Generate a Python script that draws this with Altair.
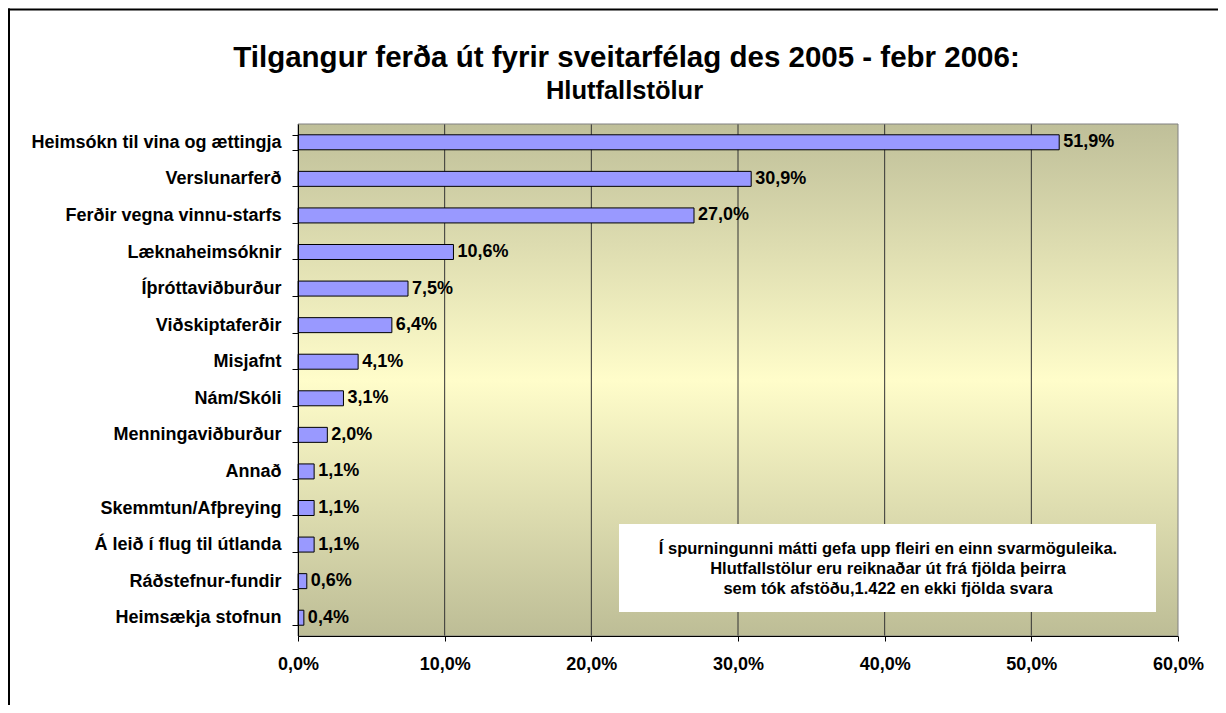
import altair as alt
import pandas as pd

# ---- data ----
categories = [
    "Heimsókn til vina og ættingja",
    "Verslunarferð",
    "Ferðir vegna vinnu-starfs",
    "Læknaheimsóknir",
    "Íþróttaviðburður",
    "Viðskiptaferðir",
    "Misjafnt",
    "Nám/Skóli",
    "Menningaviðburður",
    "Annað",
    "Skemmtun/Afþreying",
    "Á leið í flug til útlanda",
    "Ráðstefnur-fundir",
    "Heimsækja stofnun",
]
values = [51.9, 30.9, 27.0, 10.6, 7.5, 6.4, 4.1, 3.1, 2.0, 1.1, 1.1, 1.1, 0.6, 0.4]
x_ticks = [0, 10, 20, 30, 40, 50, 60]
grid_values = [10, 20, 30, 40, 50]
title_text = "Tilgangur ferða út fyrir sveitarfélag des 2005 - febr 2006:"
subtitle_text = "Hlutfallstölur"
note_lines = [
    "Í spurningunni  mátti gefa upp fleiri en einn svarmöguleika.",
    "Hlutfallstölur eru reiknaðar út frá fjölda þeirra",
    "sem tók afstöðu,1.422 en ekki fjölda svara",
]

FONT = "Liberation Sans, Arial, sans-serif"
W, H = 880, 512

df = pd.DataFrame({"cat": categories, "val": values})
one = pd.DataFrame({"d": [0]})

xscale = alt.Scale(domain=[0, 60], nice=False, zero=True)
pct_expr = "replace(format(datum.value, '.1f'), '.', ',') + '%'"

xaxis = alt.Axis(
    title=None, values=x_ticks, labelExpr=pct_expr, grid=False,
    tickSize=5, tickColor="#000", domainColor="#000",
    labelFont=FONT, labelFontSize=18, labelFontWeight="bold", labelColor="#000",
    labelPadding=14, labelFlush=False, zindex=1,
)
yaxis = alt.Axis(
    title=None, tickBand="extent", tickSize=6, tickColor="#000", domainColor="#000",
    labelFont=FONT, labelFontSize=18, labelFontWeight="bold", labelColor="#000",
    labelPadding=11, labelLimit=400, zindex=1,
)
yenc = alt.Y("cat:N", sort=categories,
             scale=alt.Scale(paddingInner=0.59, paddingOuter=0.295), axis=yaxis)

bg = alt.Chart(one).mark_rect(
    color=alt.LinearGradient(
        gradient="linear", x1=0, x2=0, y1=0, y2=1,
        stops=[
            alt.GradientStop(color="#BFBF99", offset=0),
            alt.GradientStop(color="#FFFDCA", offset=0.5),
            alt.GradientStop(color="#BDBD96", offset=1),
        ],
    )
).encode(x=alt.value(0), x2=alt.value("width"), y=alt.value(0), y2=alt.value("height"))

grid = alt.Chart(pd.DataFrame({"val": grid_values})).mark_rule(
    color="#333333", strokeWidth=1
).encode(x=alt.X("val:Q", scale=xscale, axis=xaxis))

bars = alt.Chart(df).mark_bar(color="#9999FF", stroke="#000000", strokeWidth=1).encode(
    y=yenc, x=alt.X("val:Q", scale=xscale, axis=xaxis)
)

labels = alt.Chart(df).transform_calculate(
    lbl="replace(format(datum.val, '.1f'), '.', ',') + '%'"
).mark_text(
    align="left", baseline="middle", dx=4, font=FONT, fontSize=18,
    fontWeight="bold", color="#000000",
).encode(y=yenc, x=alt.X("val:Q", scale=xscale, axis=xaxis), text="lbl:N")

box = alt.Chart(one).mark_rect(color="white").encode(
    x=alt.value(321), x2=alt.value(858), y=alt.value(400), y2=alt.value(488)
)
note = alt.Chart(one).mark_text(
    align="center", baseline="alphabetic", lineHeight=20, font=FONT,
    fontSize=16.5, fontWeight="bold", color="#000000",
).encode(x=alt.value(590), y=alt.value(429.5), text=alt.value(note_lines))

frame = alt.Chart(one).mark_rect(fillOpacity=0, stroke="#808080", strokeWidth=1).encode(
    x=alt.value(0), x2=alt.value("width"), y=alt.value(0), y2=alt.value("height")
)

# outer chart border: left and top edges (the rest falls outside the picture)
border_left = alt.Chart(one).mark_rule(color="#000000", strokeWidth=2).encode(
    x=alt.value(-289), y=alt.value(-115.5), y2=alt.value(600)
)
border_top = alt.Chart(one).mark_rule(color="#000000", strokeWidth=2).encode(
    y=alt.value(-114.5), x=alt.value(-290), x2=alt.value(940)
)

title = alt.Chart(one).mark_text(
    align="center", baseline="alphabetic", font=FONT, fontSize=29.5,
    fontWeight="bold", color="#000000",
).encode(x=alt.value(328.5), y=alt.value(-57.5), text=alt.value(title_text))

subtitle = alt.Chart(one).mark_text(
    align="center", baseline="alphabetic", font=FONT, fontSize=25.5,
    fontWeight="bold", color="#000000",
).encode(x=alt.value(326.5), y=alt.value(-24.7), text=alt.value(subtitle_text))

chart = alt.layer(
    bg, grid, bars, labels, box, note, frame, border_left, border_top, title, subtitle
).properties(
    width=W, height=H,
    padding={"left": 290, "top": 116, "right": 40, "bottom": 69},
    autosize=alt.AutoSizeParams(type="none"),
).configure_view(strokeWidth=0)

chart.save("out.html", embed_options={"renderer": "svg", "actions": False})
